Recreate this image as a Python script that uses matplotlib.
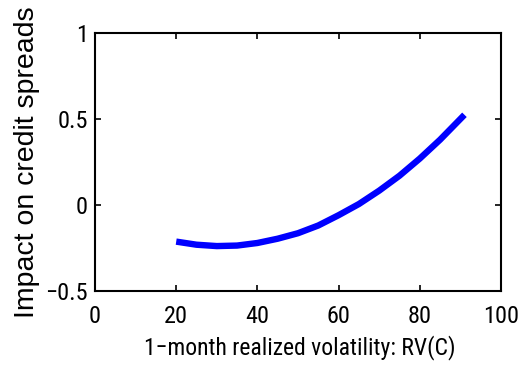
import matplotlib
matplotlib.use("Agg")
import matplotlib.pyplot as plt

# Impact curve, read at regular volatility steps
rv = [20, 25, 30, 35, 40, 45, 50, 55, 60, 65, 70, 75, 80, 85, 91]
impact = [-0.214, -0.232, -0.240, -0.237, -0.222, -0.197, -0.165, -0.120,
          -0.060, 0.005, 0.083, 0.170, 0.270, 0.380, 0.525]

xticks = [0, 20, 40, 60, 80, 100]
yticks = [-0.5, 0, 0.5, 1]
ytick_labels = ["\u22120.5", "0", "0.5", "1"]

narrow = ["Roboto Condensed", "Liberation Sans", "DejaVu Sans"]
plain = ["Liberation Sans", "DejaVu Sans"]
plt.rcParams["font.family"] = narrow

fig = plt.figure(figsize=(5.24, 3.69), dpi=100)
ax = fig.add_axes([0.1813, 0.2122, 0.7748, 0.6976])

ax.plot(rv, impact, color="#0000ff", linewidth=4.6, solid_capstyle="butt")

ax.set_xlim(0, 100)
ax.set_ylim(-0.5, 1)
ax.set_xticks(xticks)
ax.set_yticks(yticks)
ax.set_yticklabels(ytick_labels)

ax.tick_params(direction="in", length=4, width=1.2, top=True, right=True,
               labelsize=17.5)
ax.tick_params(axis="x", pad=10)
ax.tick_params(axis="y", pad=5)
for side in ax.spines.values():
    side.set_linewidth(1.5)

ax.set_xlabel("1\u2212month realized volatility: RV(C)", fontsize=17, va="center")
ax.xaxis.set_label_coords(0.505, -0.221)
ax.set_ylabel("Impact on credit spreads", fontsize=20.5, family=plain, va="center")
ax.yaxis.set_label_coords(-0.1675, 0.5)

fig.savefig("out.png", dpi=100, facecolor="white")
